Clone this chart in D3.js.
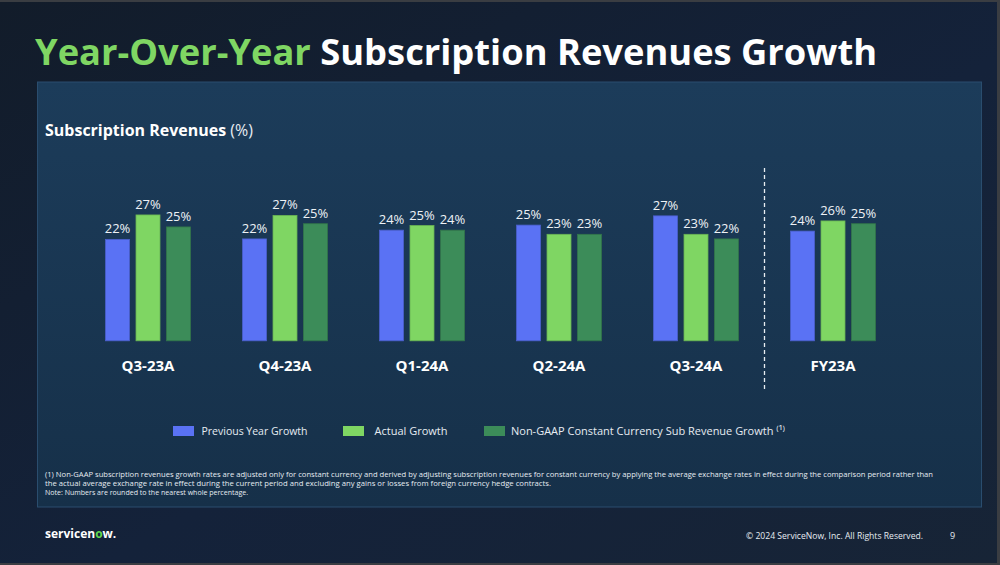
<!DOCTYPE html>
<html><head><meta charset="utf-8">
<script src="https://cdn.jsdelivr.net/npm/d3@7"></script>
<style>
html,body{margin:0;padding:0;background:#141f2f;}
svg{display:block;}
text{font-family:"Open Sans","DejaVu Sans",sans-serif;}
</style></head>
<body>
<svg id="chart" width="1000" height="565"></svg>
<script>
// ---- data ----
const categories = ["Q3-23A", "Q4-23A", "Q1-24A", "Q2-24A", "Q3-24A", "FY23A"];
const seriesNames = ["Previous Year Growth", "Actual Growth", "Non-GAAP Constant Currency Sub Revenue Growth"];
const legendLabels = ["Previous Year Growth", "Actual Growth", "Non-GAAP Constant Currency Sub Revenue Growth \u207D\u00B9\u207E"];
const previousYearGrowth = [22.0, 22.1, 24.0, 25.1, 27.1, 23.8];
const actualGrowth       = [27.3, 27.2, 25.0, 23.1, 23.1, 26.0];
const constantCurrency   = [24.7, 25.4, 24.0, 23.1, 22.1, 25.4];
const seriesColors = ["#5a72f4", "#7fd663", "#3c8c59"];
const footnotes = [
  "(1) Non-GAAP subscription revenues growth rates are adjusted only for constant currency and derived by adjusting subscription revenues for constant currency by applying the average exchange rates in effect during the comparison period rather than",
  "the actual average exchange rate in effect during the current period and excluding any gains or losses from foreign currency hedge contracts.",
  "Note: Numbers are rounded to the nearest whole percentage."
];

const seriesValues = [previousYearGrowth, actualGrowth, constantCurrency];
const table = categories.map((c, i) => ({cat: c, vals: seriesNames.map((s, j) => ({s, j, v: seriesValues[j][i]}))}));

const svg = d3.select("#chart");
const defs = svg.append("defs");
const bg = defs.append("linearGradient").attr("id", "bg").attr("x1", "0").attr("y1", "0").attr("x2", "1").attr("y2", "1");
bg.append("stop").attr("offset", "0").attr("stop-color", "#121c2a");
bg.append("stop").attr("offset", "0.55").attr("stop-color", "#14223a");
bg.append("stop").attr("offset", "1").attr("stop-color", "#172436");
const pg = defs.append("linearGradient").attr("id", "panel").attr("x1", "0").attr("y1", "0").attr("x2", "0").attr("y2", "1");
pg.append("stop").attr("offset", "0").attr("stop-color", "#1c3c5a");
pg.append("stop").attr("offset", "1").attr("stop-color", "#163049");

svg.append("rect").attr("width", 1000).attr("height", 565).attr("fill", "url(#bg)");
// frame edges
svg.append("rect").attr("x", 0).attr("y", 0).attr("width", 1000).attr("height", 2).attr("fill", "#3a3d42");
svg.append("rect").attr("x", 997).attr("y", 0).attr("width", 3).attr("height", 565).attr("fill", "#3a3d42");
svg.append("rect").attr("x", 0).attr("y", 563).attr("width", 1000).attr("height", 2).attr("fill", "#3a3d42");

// panel
svg.append("rect").attr("x", 37.5).attr("y", 82).attr("width", 944).attr("height", 425)
  .attr("fill", "url(#panel)").attr("stroke", "#2a4d6e").attr("stroke-width", 1);

// title
const title = svg.append("text").attr("x", 35).attr("y", 65).attr("font-size", 36).attr("font-weight", 700);
title.append("tspan").attr("fill", "#7fd663").text("Year-Over-Year");
title.append("tspan").attr("fill", "#ffffff").text(" Subscription Revenues Growth");
title.attr("textLength", 842).attr("lengthAdjust", "spacingAndGlyphs");

// subtitle
const sub = svg.append("text").attr("x", 45).attr("y", 136).attr("font-size", 15.5).attr("fill", "#ffffff");
sub.append("tspan").attr("font-weight", 700).text("Subscription Revenues");
sub.append("tspan").attr("font-weight", 400).attr("fill", "#e6ecf2").text(" (%)");
sub.attr("textLength", 208).attr("lengthAdjust", "spacingAndGlyphs");

// scales
const x0 = d3.scaleBand().domain(categories).range([79.5, 901.5]).paddingInner(0.38).paddingOuter(0.19);
const x1 = d3.scaleBand().domain(seriesNames).range([0, x0.bandwidth()]).paddingInner(0.213).paddingOuter(0);
const y = d3.scaleLinear().domain([0, 30]).range([340.8, 202.5]);
const color = d3.scaleOrdinal().domain(seriesNames).range(seriesColors);

const groups = svg.append("g").selectAll("g").data(table).join("g")
  .attr("transform", d => `translate(${x0(d.cat)},0)`);

groups.selectAll("rect").data(d => d.vals).join("rect")
  .attr("x", d => x1(d.s)).attr("width", x1.bandwidth())
  .attr("y", d => y(d.v)).attr("height", d => y(0) - y(d.v))
  .attr("fill", d => color(d.s))
  .attr("stroke", d => d3.color(color(d.s)).darker(0.5)).attr("stroke-width", 0.8);

groups.selectAll("text.val").data(d => d.vals).join("text").attr("class", "val")
  .attr("x", d => x1(d.s) + x1.bandwidth() / 2).attr("y", d => y(d.v) - 6)
  .attr("text-anchor", "middle").attr("font-size", 13).attr("fill", "#eef2f6")
  .text(d => Math.round(d.v) + "%");

// category axis
const xAxis = d3.axisBottom(x0).tickSize(0).tickPadding(0);
const ax = svg.append("g").attr("transform", "translate(0,359)").call(xAxis);
ax.select(".domain").remove();
ax.selectAll("text").attr("font-size", 15).attr("font-weight", 700).attr("fill", "#ffffff")
  .attr("font-family", "'Open Sans','DejaVu Sans',sans-serif").attr("dy", "0.78em");

// dashed divider between Q3-24A and FY23A
const divX = (x0("Q3-24A") + x0.bandwidth() + x0("FY23A")) / 2;
svg.append("line").attr("x1", divX).attr("x2", divX).attr("y1", 168).attr("y2", 391)
  .attr("stroke", "#e8edf2").attr("stroke-width", 1.3).attr("stroke-dasharray", "4,3");

// legend
const legendX = [173, 343, 484];
const legendTextX = [28.5, 31.5, 27];
const legendTextW = [106, 73, 274];
const lg = svg.append("g").selectAll("g").data(seriesNames).join("g")
  .attr("transform", (d, i) => `translate(${legendX[i]},426)`);
lg.append("rect").attr("width", 21).attr("height", 10).attr("fill", d => color(d));
lg.append("text").attr("x", (d, i) => legendTextX[i])
  .attr("y", 9).attr("font-size", 11.5).attr("fill", "#e6ecf2")
  .text((d, i) => legendLabels[i])
  .attr("textLength", (d, i) => legendTextW[i]).attr("lengthAdjust", "spacingAndGlyphs");

// footnotes
svg.append("g").selectAll("text").data(footnotes).join("text")
  .attr("x", 45).attr("y", (d, i) => 477 + i * 8.8)
  .attr("font-size", 7.6).attr("fill", "#e6ecf2")
  .text(d => d)
  .attr("textLength", (d, i) => [888, 506, 203][i]).attr("lengthAdjust", "spacingAndGlyphs");

// footer
const logo = svg.append("text").attr("x", 45).attr("y", 537.5).attr("font-size", 12).attr("font-weight", 700).attr("fill", "#ffffff");
logo.append("tspan").text("servicen");
logo.append("tspan").attr("fill", "#62d84e").text("o");
logo.append("tspan").text("w.");

svg.append("text").attr("x", 746).attr("y", 539).attr("font-size", 9).attr("fill", "#e6ecf2")
  .text("© 2024 ServiceNow, Inc. All Rights Reserved.")
  .attr("textLength", 177).attr("lengthAdjust", "spacingAndGlyphs");
svg.append("text").attr("x", 950).attr("y", 539).attr("font-size", 9).attr("fill", "#e6ecf2").text("9");
</script>
</body></html>
